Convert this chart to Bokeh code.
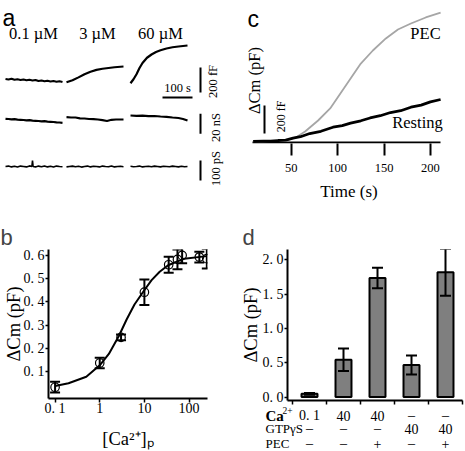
from math import pi
from bokeh.plotting import figure
from bokeh.models import Range1d, Label, FixedTicker, Whisker, ColumnDataSource, TeeHead
from bokeh.layouts import column, row
from bokeh.embed import file_html
from bokeh.resources import INLINE
from bokeh.core.properties import value

SERIF = "Liberation Serif"
SANS = "Liberation Sans"


def fs(px):
    return f"{px}px"


# ======================= DATA =======================
# (a) example traces; time (s) from the start of each trace
a_conc_labels = ["0.1 µM", "3 µM", "60 µM"]
a_t_grid = [0, 10, 20, 30, 40, 50, 60, 70, 80, 90, 100, 110, 120, 130, 140, 150, 160, 170, 180, 190]
# Cm (fF)
a_cm_01 = [12, 8, 14, 6, 10, 4, 8, 2, 6, 0, 4, -4, 0, -6, -2, -8, -4, -10, -6, -12]
a_cm_3_t = [0, 20, 40, 60, 80, 100, 120, 140, 160, 190]
a_cm_3 = [-14, 2, 25, 50, 70, 85, 94, 100, 106, 112]
a_cm_60_t = [0, 10, 20, 30, 40, 55, 70, 85, 100, 120, 140, 160, 190]
a_cm_60 = [-22, 10, 50, 100, 140, 182, 208, 228, 242, 256, 266, 272, 280]
# Gm (nS)
a_gm_01 = [1.7, 1.5, 1.2, 1.3, 0.8, 0.7, 0.5, 0.2, 0.3, -0.2, -0.3, -0.5, -0.8, -0.7, -1.1, -1.3, -1.5, -1.8, -2.0, -2.3]
a_gm_3_t = [0, 15, 30, 45, 60, 75, 90, 105, 120, 135, 150, 165, 190]
a_gm_3 = [3.3, 3.0, 3.0, 2.2, 2.0, 1.5, 1.4, 1.0, 0.3, -0.5, 0.7, 1.0, 1.0]
a_gm_60_t = [0, 20, 40, 60, 80, 100, 120, 140, 160, 175, 190]
a_gm_60 = [5.0, 4.6, 4.8, 4.4, 4.5, 4.0, 3.7, 3.0, 2.5, 1.5, 0.0]
# Gs (pS)
a_gs_01_t = [0, 10, 20, 30, 40, 50, 60, 70, 80, 88, 90, 92, 100, 110, 120, 130, 140, 150, 160, 170, 180, 190]
a_gs_01 = [0, 2, -2, 1, -3, 2, 0, -2, 3, 0, 30, 0, -2, 2, -1, 3, -2, 1, -3, 2, 0, -1]
a_gs_3 = [-2, 0, 2, -1, 1, -3, 0, 2, -2, 1, 0, -2, 2, 0, -1, 3, -2, 0, 1, -1]
a_gs_60 = [1, -1, 0, 2, -2, 0, 1, -1, 2, 0, -2, 1, 0, -1, 2, 0, -2, 1, -1, 0]
a_bar_time = 100   # s
a_bar_cm = 200     # fF
a_bar_gm = 20      # nS
a_bar_gs = 100     # pS
a_bar_labels = ["100 s", "200 fF", "20 nS", "100 pS"]

# (b) dose response
b_conc = [0.1, 1, 3, 10, 35, 55, 70, 170, 250]
b_dcm = [0.034, 0.138, 0.248, 0.442, 0.56, 0.583, 0.6, 0.593, 0.586]
b_err = [0.023, 0.023, 0.012, 0.055, 0.034, 0.042, 0.034, 0.023, 0.042]
b_fit_conc = [0.1, 0.2, 0.5, 1, 1.6, 2.7, 4, 6, 9.5, 14.5, 22, 34, 78, 250]
b_fit = [0.039, 0.051, 0.079, 0.128, 0.177, 0.255, 0.325, 0.389, 0.445, 0.494, 0.53, 0.558, 0.586, 0.597]
b_xticks = [0.1, 1, 10, 100]
b_xtick_labels = ["0. 1", "1", "10", "100"]
b_yticks = [0.1, 0.2, 0.3, 0.4, 0.5, 0.6]
b_ytick_labels = ["0. 1", "0. 2", "0. 3", "0. 4", "0. 5", "0. 6"]

# (c) time course (fF)
c_ticks = [50, 100, 150, 200]
c_rest_t = [9, 20, 28, 36, 44, 52, 60, 70, 82, 95, 105, 114, 125, 135, 146, 157, 168, 179, 190, 200, 211]
c_rest = [0, 3, 2, 7, 10, 24, 34, 57, 73, 102, 113, 131, 148, 168, 184, 207, 220, 245, 260, 283, 300]
c_pec_t = [9, 44, 55, 65, 79, 92, 103, 114, 125, 138, 152, 165, 179, 195, 211]
c_pec = [0, 7, 29, 71, 150, 236, 343, 450, 557, 650, 736, 800, 843, 886, 921]
c_bar = 200  # fF

# (d) bars
d_pos = [1, 2, 3, 4, 5]
d_mean = [0.046, 0.543, 1.736, 0.467, 1.819]
d_err = [0.012, 0.165, 0.15, 0.14, 0.34]
d_yticks = [0, 0.5, 1, 1.5, 2]
d_ytick_labels = ["0. 0", "0. 5", "1. 0", "1. 5", "2. 0"]
d_row_names = ["Ca", "GTPγS", "PEC"]
d_ca = ["0. 1", "40", "40", "–", "–"]
d_gtp = ["–", "–", "–", "40", "40"]
d_pec = ["–", "–", "+", "–", "+"]


def base_fig(**kw):
    f = figure(output_backend="svg", toolbar_location=None, outline_line_color=None,
               background_fill_color="white", border_fill_color="white", **kw)
    f.xgrid.visible = False
    f.ygrid.visible = False
    return f


def lab(f, x, y, text, size, font=SERIF, align="center", baseline="middle", angle=0, style="normal"):
    f.add_layout(Label(x=x, y=y, text=text, text_font=font, text_font_size=fs(size),
                       text_align=align, text_baseline=baseline, angle=angle,
                       text_font_style=style, text_color="black"))


def style_axis(ax, size):
    ax.axis_line_width = 2
    ax.major_tick_line_width = 1.5
    ax.major_tick_in = 0
    ax.minor_tick_in = 0
    ax.minor_tick_out = 0
    ax.major_label_text_font = SERIF
    ax.major_label_text_font_size = fs(size)
    ax.major_label_text_color = "black"


def letter_title(f, text, offset, standoff=0):
    t = f.title
    t.text = text
    t.text_font = SANS
    t.text_font_size = "22px"
    t.text_font_style = "normal"
    t.text_line_height = 0.7
    t.align = "left"
    t.offset = offset
    t.standoff = standoff
    t.text_baseline = "alphabetic"
    t.vertical_align = "bottom"


# ======================= PANEL A =======================
fa = base_fig(width=232, height=222, x_range=Range1d(0, 232), y_range=Range1d(222, 0),
              x_axis_location=None, y_axis_location=None, min_border=0)
A_X0 = [5, 66, 130]
A_PX_PER_S = 0.3
A_ROW_BASE = [80, 120, 166]
A_ROW_UNIT = [8.0, 1.0, 5.0]
for k, x0 in enumerate(A_X0):
    fa.extra_x_ranges[f"t{k}"] = Range1d(-x0 / A_PX_PER_S, (232 - x0) / A_PX_PER_S)
for j, (b0, u) in enumerate(zip(A_ROW_BASE, A_ROW_UNIT)):
    fa.extra_y_ranges[f"r{j}"] = Range1d((b0 - 222) * u, b0 * u)

traces = [
    (a_t_grid, a_cm_01, 0, 0), (a_cm_3_t, a_cm_3, 1, 0), (a_cm_60_t, a_cm_60, 2, 0),
    (a_t_grid, a_gm_01, 0, 1), (a_gm_3_t, a_gm_3, 1, 1), (a_gm_60_t, a_gm_60, 2, 1),
    (a_gs_01_t, a_gs_01, 0, 2), (a_t_grid, a_gs_3, 1, 2), (a_t_grid, a_gs_60, 2, 2),
]
for tt, vv, k, j in traces:
    fa.line(tt, vv, x_range_name=f"t{k}", y_range_name=f"r{j}", line_color="black",
            line_width=2.2 if j < 2 else 1.6)

tb0 = (162 - A_X0[2]) / A_PX_PER_S
fa.segment(x0=[tb0], x1=[tb0 + a_bar_time], y0=[(80 - 97) * 8.0], y1=[(80 - 97) * 8.0],
           x_range_name="t2", y_range_name="r0", line_color="black", line_width=2)
xb = (200 - A_X0[2]) / A_PX_PER_S
for j, (ybot, length) in enumerate([(92, a_bar_cm), (133.3, a_bar_gm), (180, a_bar_gs)]):
    y0 = (A_ROW_BASE[j] - ybot) * A_ROW_UNIT[j]
    fa.segment(x0=[xb], x1=[xb], y0=[y0], y1=[y0 + length], x_range_name="t2",
               y_range_name=f"r{j}", line_color="black", line_width=2)

fa.text(x=[2], y=[17], text=["a"], text_font=value(SANS), text_font_size=value(fs(23)),
        text_align="left", text_baseline="alphabetic")
fa.text(x=[33, 97, 160], y=[33, 33, 33], text=a_conc_labels, text_font=value(SERIF),
        text_font_size=value(fs(16.5)), text_align="center", text_baseline="middle")
fa.text(x=[177], y=[87], text=[a_bar_labels[0]], text_font=value(SERIF),
        text_font_size=value(fs(12.5)), text_align="center", text_baseline="middle")
fa.text(x=[212, 215, 215], y=[81, 127, 168], text=a_bar_labels[1:], angle=pi / 2,
        text_font=value(SERIF), text_font_size=value(fs(12.5)), text_align="center",
        text_baseline="middle")

# ======================= PANEL C =======================
def c_t(x):
    return (x - 244.3) / 0.928


def c_v(y):
    return (141 - y) * 200 / 28


fc = base_fig(width=233, height=222, x_range=Range1d(c_t(232), c_t(465)),
              y_range=Range1d(c_v(143), c_v(0)), y_axis_location=None,
              min_border_left=0, min_border_right=0, min_border_top=0, min_border_bottom=79)
axc = fc.xaxis[0]
style_axis(axc, 12.5)
axc.axis_line_color = None
axc.ticker = FixedTicker(ticks=c_ticks)
axc.major_tick_out = 12
axc.major_tick_line_width = 2
axc.major_label_standoff = 8
axc.axis_label = "Time (s)"
axc.axis_label_text_font = SERIF
axc.axis_label_text_font_size = fs(17)
axc.axis_label_text_font_style = "normal"
axc.axis_label_text_color = "black"
axc.axis_label_standoff = 7
fc.segment(x0=[c_t(252)], x1=[c_t(440)], y0=[c_v(142)], y1=[c_v(142)],
           line_color="black", line_width=2)
fc.line(c_pec_t, c_pec, line_color="#a6a6a6", line_width=1.8)
fc.line(c_rest_t, c_rest, line_color="black", line_width=2.8)
fc.segment(x0=[c_t(264)], x1=[c_t(264)], y0=[c_v(133)], y1=[c_v(133) + c_bar],
           line_color="black", line_width=2)
lab(fc, c_t(247), c_v(18), "c", 23, font=SANS, align="left", baseline="alphabetic")
lab(fc, c_t(425), c_v(33), "PEC", 16.5)
lab(fc, c_t(417), c_v(122), "Resting", 16.5)
lab(fc, c_t(254), c_v(80), "ΔCm (pF)", 16.5, angle=pi / 2)
lab(fc, c_t(280), c_v(116), "200 fF", 12, angle=pi / 2)

# ======================= PANEL B =======================
def b_x(x):
    return 10 ** ((x - 51.7) / 45.5 - 1)


def b_y(y):
    return 0.6 - (y - 253) / 236


fb = base_fig(width=232, height=229, x_axis_type="log",
              x_range=Range1d(b_x(45), b_x(207)), y_range=Range1d(b_y(398), b_y(247)),
              min_border_left=45, min_border_right=25, min_border_top=25, min_border_bottom=53)
for ax in (fb.xaxis[0], fb.yaxis[0]):
    style_axis(ax, 14)
    ax.major_tick_out = 3
    ax.major_label_standoff = 1
fb.xaxis[0].ticker = FixedTicker(ticks=b_xticks)
fb.xaxis[0].major_label_overrides = dict(zip(b_xticks, b_xtick_labels))
fb.xaxis[0].major_tick_out = 4
fb.xaxis[0].major_label_standoff = -2
fb.yaxis[0].ticker = FixedTicker(ticks=b_yticks)
fb.yaxis[0].major_label_overrides = dict(zip(b_yticks, b_ytick_labels))
fb.yaxis[0].axis_label = "ΔCm (pF)"
fb.yaxis[0].axis_label_standoff = -3
fb.xaxis[0].axis_label = "[Ca²⁺]ₚ"
fb.xaxis[0].axis_label_standoff = 10
for ax in (fb.xaxis[0], fb.yaxis[0]):
    ax.axis_label_text_font = SERIF
    ax.axis_label_text_font_size = fs(18.5)
    ax.axis_label_text_font_style = "normal"
    ax.axis_label_text_color = "black"
letter_title(fb, "b", -48, standoff=0)

fb.line(b_fit_conc, b_fit, line_color="black", line_width=2)
bsrc = ColumnDataSource(dict(x=b_conc, y=b_dcm,
                             lo=[m - e for m, e in zip(b_dcm, b_err)],
                             hi=[m + e for m, e in zip(b_dcm, b_err)]))
fb.add_layout(Whisker(source=bsrc, base="x", lower="lo", upper="hi", line_width=2,
                      level="overlay",
                      upper_head=TeeHead(size=10, line_width=2),
                      lower_head=TeeHead(size=10, line_width=2)))
fb.scatter("x", "y", source=bsrc, marker="circle", size=8.5, fill_color=None,
           line_color="black", line_width=1.2)

# ======================= PANEL D =======================
def d_x(x):
    return 1 + (x - 309) / 34


def d_y(y):
    return (396.5 - y) / 69


fd = base_fig(width=233, height=183, x_range=Range1d(d_x(287), d_x(462)),
              y_range=Range1d(d_y(400), d_y(248)),
              min_border_left=55, min_border_right=3, min_border_top=26, min_border_bottom=5)
for ax in (fd.xaxis[0], fd.yaxis[0]):
    style_axis(ax, 14)
    ax.major_tick_out = 3
    ax.major_label_standoff = 1
fd.xaxis[0].ticker = FixedTicker(ticks=[], minor_ticks=[p - 0.5 for p in d_pos] + [5.5])
fd.xaxis[0].minor_tick_out = 4
fd.xaxis[0].minor_tick_line_width = 1.5
fd.yaxis[0].ticker = FixedTicker(ticks=d_yticks)
fd.yaxis[0].major_label_overrides = dict(zip(d_yticks, d_ytick_labels))
fd.yaxis[0].axis_label = "ΔCm (pF)"
fd.yaxis[0].axis_label_standoff = -1
fd.yaxis[0].axis_label_text_font = SERIF
fd.yaxis[0].axis_label_text_font_size = fs(18.5)
fd.yaxis[0].axis_label_text_font_style = "normal"
fd.yaxis[0].axis_label_text_color = "black"
letter_title(fd, "d", -45, standoff=0)

fd.vbar(x=d_pos, top=d_mean, width=0.47, fill_color="#7f7f7f", line_color="black",
        line_width=2)
dsrc = ColumnDataSource(dict(x=d_pos, lo=[m - e for m, e in zip(d_mean, d_err)],
                             hi=[m + e for m, e in zip(d_mean, d_err)]))
fd.add_layout(Whisker(source=dsrc, base="x", lower="lo", upper="hi", line_width=2,
                      level="overlay",
                      upper_head=TeeHead(size=11, line_width=2),
                      lower_head=TeeHead(size=11, line_width=2)))

# table under panel d (same category scale)
fdt = base_fig(width=233, height=46, x_range=Range1d(d_x(232), d_x(465)),
               y_range=Range1d(451, 405), x_axis_location=None, y_axis_location=None,
               min_border=0)
fdt.text(x=[d_x(265)], y=[415], text=[d_row_names[0]], text_font=value(SERIF),
         text_font_size=value(fs(15)), text_font_style="bold", text_align="left",
         text_baseline="middle")
fdt.text(x=[d_x(282)], y=[409.5], text=["2+"], text_font=value(SERIF),
         text_font_size=value(fs(9.5)), text_align="left", text_baseline="middle")
fdt.text(x=[d_x(265), d_x(265)], y=[428.3, 443.3], text=d_row_names[1:],
         text_font=value(SERIF), text_font_size=value(fs(13)), text_align="left",
         text_baseline="middle")
for rtexts, ry in [(d_ca, 415), (d_gtp, 428.3), (d_pec, 443.3)]:
    fdt.text(x=d_pos, y=[ry] * len(d_pos), text=rtexts, text_font=value(SERIF),
             text_font_size=value(fs(14)), text_align="center", text_baseline="middle")

layout = column(row(column(fa), column(fc)),
                row(column(fb), column(column(fd), column(fdt))))
open("out.html", "w").write(file_html(layout, INLINE))
